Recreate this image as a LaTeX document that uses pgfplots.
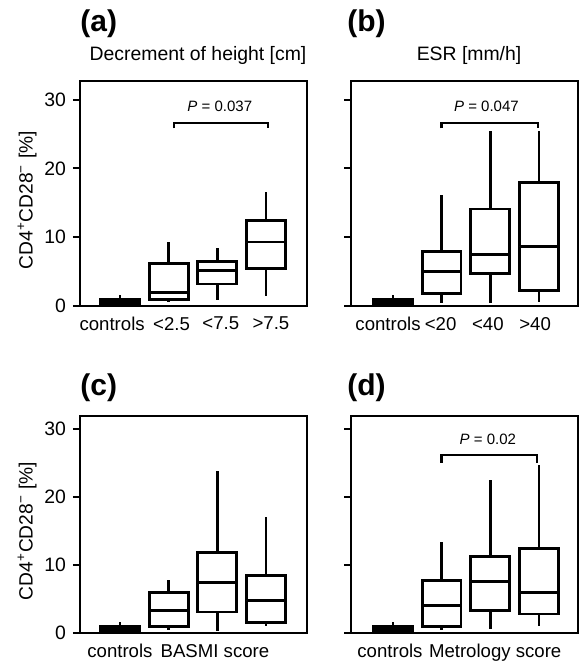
\documentclass[border=0pt]{standalone}
\usepackage{fontspec}
\setmainfont{Liberation Sans}
\usepackage{pgfplots}
\pgfplotsset{compat=1.18}
\usepgfplotslibrary{statistics}

\pgfplotsset{
  panel/.style={
    scale only axis,
    width=113.5pt,
    ymin=0,
    axis line style={line width=1.3pt},
    ytick={0,10,20,30},
    tick pos=left,
    tick align=outside,
    major tick length=3.5pt,
    ytick style={line width=1pt,black},
    xtick style={draw=none},
    yticklabel style={font=\fontsize{9.7}{11}\selectfont},
    xticklabel style={font=\fontsize{9.3}{10}\selectfont,yshift=1.5pt},
    /pgf/number format/assume math mode=true,
    ylabel style={at={(axis description cs:-0.233,0.47)},anchor=center,
      font=\fontsize{9.6}{10}\selectfont},
    title style={at={(axis description cs:0.52,1)},anchor=base,yshift=4pt,
      font=\fontsize{9.7}{10}\selectfont},
    boxplot/draw direction=y,
    boxplot/whisker extend=0,
    clip=false,
  },
  left col/.style={xmin=-0.82,xmax=3.84},
  right col/.style={xmin=-0.86,xmax=3.80,yticklabels={}},
  top row/.style={height=112.5pt,ymax=32.7},
  bottom row/.style={height=108.5pt,ymax=31.9},
  bx/.style={draw=black,line width=1.4pt,fill=white,boxplot/box extend=0.8},
  ctl/.style={draw=black,fill=black,line width=0.8pt,boxplot/box extend=0.84},
}
\tikzset{
  bracket/.style={line width=1.2pt},
  ptext/.style={font=\fontsize{7.5}{8}\selectfont},
  tag/.style={font=\fontsize{15}{16}\selectfont\bfseries,anchor=base west,inner sep=0pt},
}
\newcommand{\cdlabel}{CD4\textsuperscript{+}CD28\textsuperscript{−} [\%]}

\begin{document}
\begin{tikzpicture}
\useasboundingbox (0,0) rectangle (290pt,331.5pt);

% (a) decrement of height
\begin{axis}[panel,left col,top row,
  at={(40pt,178.5pt)},anchor=south west,
  title={Decrement of height [cm]},
  ylabel={\cdlabel},
  xtick={-0.16,1.06,2.07,3.1},
  xticklabels={controls,<2.5,<7.5,>7.5}]
  \addplot[ctl,boxplot prepared={draw position=0,lower whisker=0,lower quartile=0,
    median=0.5,upper quartile=1.0,upper whisker=1.6}] coordinates {};
  \addplot[bx,boxplot prepared={draw position=1,lower whisker=0.6,lower quartile=0.9,
    median=2.0,upper quartile=6.2,upper whisker=9.3}] coordinates {};
  \addplot[bx,boxplot prepared={draw position=2,lower whisker=0.8,lower quartile=3.2,
    median=5.1,upper quartile=6.5,upper whisker=8.5}] coordinates {};
  \addplot[bx,boxplot prepared={draw position=3,lower whisker=1.5,lower quartile=5.4,
    median=9.3,upper quartile=12.4,upper whisker=16.5}] coordinates {};
  \draw[bracket] (axis cs:1.11,25.8) -- (axis cs:1.11,26.6) -- (axis cs:3.04,26.6) -- (axis cs:3.04,25.8);
  \node[ptext] at (axis cs:2.05,29.0) {\textit{P} = 0.037};
\end{axis}

% (b) ESR
\begin{axis}[panel,right col,top row,
  at={(175.5pt,178.5pt)},anchor=south west,
  title={ESR [mm/h]},
  xtick={-0.1,0.98,1.95,2.92},
  xticklabels={controls,<20,<40,>40}]
  \addplot[ctl,boxplot prepared={draw position=0,lower whisker=0,lower quartile=0,
    median=0.5,upper quartile=1.1,upper whisker=1.6}] coordinates {};
  \addplot[bx,boxplot prepared={draw position=1,lower whisker=0.4,lower quartile=1.8,
    median=5.0,upper quartile=7.9,upper whisker=16.2}] coordinates {};
  \addplot[bx,boxplot prepared={draw position=2,lower whisker=0.4,lower quartile=4.7,
    median=7.5,upper quartile=14.1,upper whisker=25.5}] coordinates {};
  \addplot[bx,boxplot prepared={draw position=3,lower whisker=0.6,lower quartile=2.2,
    median=8.6,upper quartile=18.0,upper whisker=25.4}] coordinates {};
  \draw[bracket] (axis cs:1.0,25.8) -- (axis cs:1.0,26.6) -- (axis cs:2.98,26.6) -- (axis cs:2.98,25.8);
  \node[ptext] at (axis cs:1.92,29.0) {\textit{P} = 0.047};
\end{axis}

% (c) BASMI
\begin{axis}[panel,left col,bottom row,
  at={(40pt,15pt)},anchor=south west,
  ylabel={\cdlabel},
  xtick={0.0,1.95},
  xticklabels={controls,BASMI score}]
  \addplot[ctl,boxplot prepared={draw position=0,lower whisker=0,lower quartile=0,
    median=0.5,upper quartile=1.0,upper whisker=1.6}] coordinates {};
  \addplot[bx,boxplot prepared={draw position=1,lower whisker=0.4,lower quartile=0.9,
    median=3.3,upper quartile=5.9,upper whisker=7.8}] coordinates {};
  \addplot[bx,boxplot prepared={draw position=2,lower whisker=0.3,lower quartile=3.1,
    median=7.4,upper quartile=11.8,upper whisker=23.8}] coordinates {};
  \addplot[bx,boxplot prepared={draw position=3,lower whisker=1.0,lower quartile=1.5,
    median=4.8,upper quartile=8.4,upper whisker=17.1}] coordinates {};
\end{axis}

% (d) Metrology
\begin{axis}[panel,right col,bottom row,
  at={(175.5pt,15pt)},anchor=south west,
  xtick={-0.06,2.1},
  xticklabels={controls,Metrology score}]
  \addplot[ctl,boxplot prepared={draw position=0,lower whisker=0,lower quartile=0,
    median=0.5,upper quartile=1.0,upper whisker=1.6}] coordinates {};
  \addplot[bx,boxplot prepared={draw position=1,lower whisker=0.5,lower quartile=1.0,
    median=4.1,upper quartile=7.7,upper whisker=13.4}] coordinates {};
  \addplot[bx,boxplot prepared={draw position=2,lower whisker=0.6,lower quartile=3.3,
    median=7.6,upper quartile=11.2,upper whisker=22.5}] coordinates {};
  \addplot[bx,boxplot prepared={draw position=3,lower whisker=1.0,lower quartile=2.8,
    median=5.9,upper quartile=12.4,upper whisker=24.7}] coordinates {};
  \draw[bracket] (axis cs:1.0,25.0) -- (axis cs:1.0,26.2) -- (axis cs:2.96,26.2) -- (axis cs:2.96,25.0);
  \node[ptext] at (axis cs:1.95,28.4) {\textit{P} = 0.02};
\end{axis}

\node[tag] at (40pt,315.75pt) {(a)};
\node[tag] at (173.5pt,315.75pt) {(b)};
\node[tag] at (40pt,133.5pt) {(c)};
\node[tag] at (173.5pt,133.5pt) {(d)};
\end{tikzpicture}
\end{document}
